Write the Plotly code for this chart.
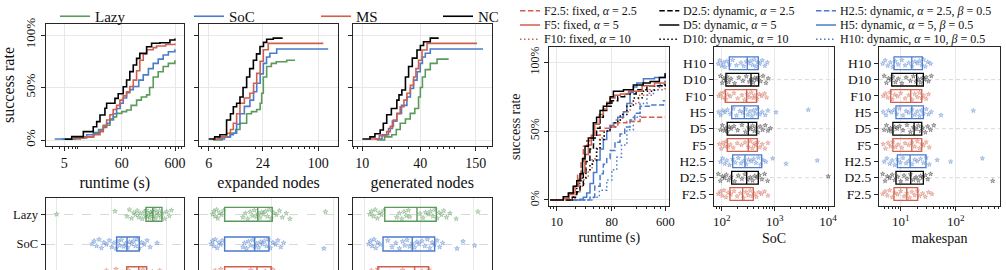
import math
import plotly.graph_objects as go

# ---------------- DATA ----------------
METHODS = ["Lazy", "SoC", "MS", "NC"]

# left CDFs: runtime (s)
RT_LAZY_X = [4.5, 10, 17.5, 22, 27, 36, 42, 48, 60, 74, 90, 114, 140, 176, 200, 234, 290, 360, 450, 597]
RT_LAZY_Y = [0.01, 0.03, 0.064, 0.1, 0.14, 0.19, 0.22, 0.254, 0.27, 0.286, 0.33, 0.38, 0.41, 0.43, 0.5, 0.6, 0.65, 0.7, 0.73, 0.76]
RT_SOC_X = [3.3, 8, 13.2, 18, 23.4, 27, 31.2, 36, 41.5, 48, 56, 64, 74, 85, 98.7, 125, 152, 190, 234, 290, 360, 450, 597]
RT_SOC_Y = [0.01, 0.02, 0.05, 0.07, 0.095, 0.12, 0.16, 0.2, 0.25, 0.3, 0.35, 0.4, 0.45, 0.48, 0.51, 0.57, 0.62, 0.68, 0.73, 0.77, 0.81, 0.84, 0.864]
RT_MS_X = [7.4, 12, 18, 23.4, 27, 31.2, 36, 41.5, 48, 55.5, 64, 74, 85, 98.7, 114, 131, 152, 176, 234, 271, 400, 597]
RT_MS_Y = [0.02, 0.03, 0.05, 0.08, 0.13, 0.19, 0.24, 0.29, 0.33, 0.38, 0.42, 0.46, 0.51, 0.57, 0.66, 0.76, 0.82, 0.86, 0.88, 0.895, 0.91, 0.92]
RT_NC_X = [5.1, 6.9, 11.4, 17.5, 20.3, 23.4, 29, 31.2, 44.7, 51.5, 64, 74, 85, 98.7, 114, 131, 176, 218, 313, 481, 597]
RT_NC_Y = [0.007, 0.032, 0.08, 0.127, 0.175, 0.238, 0.302, 0.35, 0.397, 0.44, 0.508, 0.571, 0.651, 0.714, 0.778, 0.825, 0.889, 0.921, 0.927, 0.952, 0.968]

# left CDFs: expanded nodes
EX_LAZY_X = [6.7, 8.5, 10.4, 12, 13.4, 15.9, 18, 20.6, 22.5, 23.4, 24.4, 26.6, 30, 34, 44.5, 55]
EX_LAZY_Y = [0.0, 0.03, 0.064, 0.1, 0.16, 0.25, 0.27, 0.29, 0.35, 0.445, 0.6, 0.7, 0.73, 0.746, 0.76, 0.76]
EX_SOC_X = [7.4, 9, 10.5, 11.3, 12.3, 13.4, 15, 17.3, 19, 20.6, 22.5, 24.4, 26.5, 28.9, 34.4, 129]
EX_SOC_Y = [0.01, 0.03, 0.05, 0.064, 0.15, 0.25, 0.32, 0.38, 0.46, 0.54, 0.63, 0.73, 0.79, 0.826, 0.867, 0.867]
EX_MS_X = [6.7, 8, 9.5, 10.5, 11.3, 12.3, 13.4, 15, 17.3, 19, 20.6, 22.5, 24.4, 27.7, 114]
EX_MS_Y = [0.01, 0.03, 0.064, 0.1, 0.16, 0.25, 0.35, 0.4, 0.445, 0.54, 0.635, 0.75, 0.86, 0.92, 0.92]
EX_NC_X = [6, 7, 8, 9.5, 10.5, 11.3, 12.3, 13.4, 14.5, 15.9, 17.2, 18.9, 20.5, 22.4, 24.5, 26.6, 31.5, 40.1]
EX_NC_Y = [0.01, 0.03, 0.05, 0.19, 0.25, 0.317, 0.35, 0.41, 0.5, 0.6, 0.68, 0.76, 0.82, 0.89, 0.93, 0.96, 0.97, 0.97]

# left CDFs: generated nodes
GE_LAZY_X = [14.1, 17, 20.2, 22.5, 24.7, 28, 31.4, 35, 38.3, 40, 42, 45, 50.7, 59.6, 78.7]
GE_LAZY_Y = [0.0, 0.03, 0.05, 0.1, 0.16, 0.2, 0.254, 0.3, 0.41, 0.5, 0.6, 0.67, 0.73, 0.77, 0.77]
GE_SOC_X = [13.5, 16, 18.7, 20.5, 22.8, 25.5, 29, 31.5, 34, 37, 39.9, 42, 45, 50.7, 179]
GE_SOC_Y = [0.01, 0.05, 0.11, 0.18, 0.254, 0.33, 0.41, 0.49, 0.57, 0.65, 0.73, 0.79, 0.826, 0.867, 0.867]
GE_MS_X = [12, 15, 17.9, 19.5, 21, 22.8, 24.7, 27, 29, 31.5, 34, 36, 38.3, 41.6, 46.9, 155]
GE_MS_Y = [0.01, 0.04, 0.08, 0.13, 0.19, 0.25, 0.317, 0.38, 0.445, 0.52, 0.6, 0.68, 0.76, 0.857, 0.92, 0.92]
GE_NC_X = [10, 12, 13.5, 15.3, 16.5, 17.9, 20, 22.8, 24, 25.7, 28, 30.2, 33, 36.9, 40, 43.2, 50.7, 62]
GE_NC_Y = [0.01, 0.03, 0.06, 0.095, 0.16, 0.24, 0.3, 0.38, 0.43, 0.476, 0.6, 0.7, 0.78, 0.857, 0.9, 0.936, 0.97, 0.97]

# left box row (q1, median, q3) and points, three metrics
B1_Q = {"Lazy": (42, 56, 82), "SoC": (12.3, 19, 31.7), "MS": (18.8, 31, 43.3), "NC": (15, 24, 38)}
B1_LAZY = [1.0, 11.5, 19, 21, 23, 25, 27, 29, 31, 33, 36, 39, 41, 43, 45, 47, 49, 51, 53, 55, 57, 60, 63, 66, 70, 74, 78, 84, 92, 100, 112, 122]
B1_SOC = [4.4, 4.8, 5.3, 5.9, 6.5, 7.2, 8, 9, 10, 11, 12, 13, 14, 15, 16.5, 18, 19.5, 21, 23, 25, 27, 29, 32, 35, 39, 44, 50, 67]
B1_MS = [6, 8, 10, 12, 14, 16, 18, 20, 22, 25, 28, 31, 34, 37, 40, 44, 48, 55, 62, 75]
B1_NC = [5, 7, 9, 11, 13, 15, 17, 19, 21, 24, 27, 30, 34, 38, 43, 50, 60]

B2_Q = {"Lazy": (8.2, 17.6, 24.6), "SoC": (8.2, 16.4, 22.8), "MS": (8.2, 17.3, 24), "NC": (7.5, 15, 21)}
B2_LAZY = [6.2, 6.4, 6.6, 6.8, 7.0, 7.3, 7.6, 8.0, 12.5, 13.2, 14, 14.8, 15.5, 16.3, 17, 17.8, 18.5, 19.3, 20, 21, 22, 23, 24, 25.5, 27, 29, 31, 34, 37, 84]
B2_SOC = [6.0, 6.2, 6.4, 6.6, 6.9, 7.2, 7.5, 7.8, 12.5, 13, 13.6, 14.2, 15, 15.7, 16.4, 17.2, 18, 18.8, 19.6, 20.5, 21.5, 22.5, 23.5, 25, 26.5, 28, 30, 32, 81]
B2_MS = [6.2, 6.6, 7, 7.5, 8, 12, 13.5, 15, 16.5, 18, 19.5, 21, 23, 25, 28, 32]
B2_NC = [6, 6.5, 7, 7.5, 11, 12.5, 14, 15.5, 17, 19, 21, 23, 26, 30]

B3_Q = {"Lazy": (16.7, 37.1, 59.8), "SoC": (16, 33, 57.5), "MS": (14.1, 35, 49.5), "NC": (13, 30, 45)}
B3_LAZY = [11.5, 12, 12.6, 13.2, 13.9, 14.6, 15.4, 16.2, 22.5, 24, 25.5, 27, 28.5, 30, 31, 40, 43, 46, 49, 52, 55, 58, 61, 64, 68, 72, 77, 84, 98, 168]
B3_SOC = [11.2, 11.7, 12.2, 12.8, 13.4, 14, 14.9, 18, 20, 22, 24, 26, 27.5, 29, 31, 33, 35, 37, 39, 42, 45, 48, 51, 54, 57, 61, 65, 70, 100, 116, 155]
B3_MS = [11, 12, 13, 14, 16, 19, 22, 26, 30, 34, 38, 42, 46, 50, 56, 64]
B3_NC = [10.5, 11.5, 12.5, 14, 16, 19, 22, 25, 28, 32, 36, 40, 45, 52, 60]

# right side: configurations
CONFIGS = ["F2.5", "D2.5", "H2.5", "F5", "D5", "H5", "F10", "D10", "H10"]
CONFIG_LABELS = {
    "F2.5": "F2.5: fixed, <i>α</i> = 2.5", "D2.5": "D2.5: dynamic, <i>α</i> = 2.5",
    "H2.5": "H2.5: dynamic, <i>α</i> = 2.5, <i>β</i> = 0.5",
    "F5": "F5: fixed, <i>α</i> = 5", "D5": "D5: dynamic, <i>α</i> = 5",
    "H5": "H5: dynamic, <i>α</i> = 5, <i>β</i> = 0.5",
    "F10": "F10: fixed, <i>α</i> = 10", "D10": "D10: dynamic, <i>α</i> = 10",
    "H10": "H10: dynamic, <i>α</i> = 10, <i>β</i> = 0.5",
}

# right CDF (runtime s)
R_F25_X = [14, 16, 18.7, 22, 25, 27.3, 31, 35, 39.8, 51.3, 62, 74.9, 100, 141, 232, 596]
R_F25_Y = [0, 0.04, 0.1, 0.18, 0.27, 0.39, 0.43, 0.45, 0.47, 0.5, 0.52, 0.53, 0.56, 0.57, 0.6, 0.6]
R_D25_X = [14, 18, 21.3, 24.1, 27.3, 30, 35, 40, 45, 51.3, 58, 66, 80, 100, 130, 200, 300, 596]
R_D25_Y = [0, 0.02, 0.06, 0.1, 0.2, 0.28, 0.37, 0.45, 0.52, 0.6, 0.65, 0.68, 0.72, 0.75, 0.77, 0.8, 0.83, 0.84]
R_H25_X = [18, 35.1, 42, 51.3, 58, 66, 74.9, 90, 109, 130, 159, 190, 232, 339, 560, 596]
R_H25_Y = [0, 0.02, 0.1, 0.19, 0.26, 0.3, 0.36, 0.42, 0.48, 0.53, 0.58, 0.63, 0.68, 0.69, 0.72, 0.72]
R_F5_X = [7.8, 13, 16, 20, 23, 25, 29, 33, 37, 42, 50, 58, 66, 75, 90, 110, 150, 250, 400, 596]
R_F5_Y = [0, 0.01, 0.05, 0.1, 0.15, 0.2, 0.33, 0.4, 0.47, 0.55, 0.62, 0.66, 0.71, 0.74, 0.76, 0.77, 0.79, 0.83, 0.85, 0.86]
R_D5_X = [7.8, 12.8, 15.5, 18.7, 21.3, 24.1, 26.5, 29.1, 33, 39.8, 45, 51.3, 58, 66, 75, 84.8, 124, 180, 260, 339, 480, 596]
R_D5_Y = [0, 0.024, 0.05, 0.1, 0.14, 0.19, 0.3, 0.39, 0.45, 0.56, 0.6, 0.65, 0.68, 0.7, 0.75, 0.79, 0.8, 0.835, 0.85, 0.86, 0.89, 0.92]
R_H5_X = [15, 24, 27.3, 31, 35.1, 40, 45.3, 51.3, 58.1, 66, 74.9, 84.8, 100, 124, 141, 159, 180, 205, 263, 400, 596]
R_H5_Y = [0, 0.005, 0.02, 0.05, 0.12, 0.2, 0.29, 0.37, 0.44, 0.5, 0.54, 0.56, 0.6, 0.64, 0.7, 0.78, 0.82, 0.85, 0.88, 0.89, 0.92]
R_F10_X = [15, 20, 24, 28, 33, 38, 45, 51.3, 60, 74.9, 90, 120, 160, 220, 330, 596]
R_F10_Y = [0, 0.05, 0.1, 0.16, 0.22, 0.3, 0.38, 0.45, 0.5, 0.54, 0.58, 0.64, 0.7, 0.76, 0.8, 0.82]
R_D10_X = [15, 18.7, 21.3, 25, 30, 35, 39.8, 45, 51.3, 60, 74.9, 90, 110, 141, 180, 250, 400, 596]
R_D10_Y = [0, 0.05, 0.12, 0.16, 0.22, 0.26, 0.29, 0.37, 0.44, 0.5, 0.53, 0.57, 0.62, 0.68, 0.74, 0.79, 0.83, 0.84]
R_H10_X = [20, 39.8, 50, 66, 80, 96.3, 115, 141, 180, 232, 300, 384, 480, 596]
R_H10_Y = [0, 0.02, 0.07, 0.145, 0.22, 0.31, 0.4, 0.51, 0.6, 0.7, 0.76, 0.8, 0.84, 0.88]

# right box plots: (q1, median, q3)
SOC_Q = {"H10": (139, 303, 488), "D10": (120, 356, 495), "F10": (117, 295, 455),
         "H5": (154, 266, 488), "D5": (127, 316, 455), "F5": (127, 316, 467),
         "H2.5": (161, 274, 565), "D2.5": (154, 295, 488), "F2.5": (143, 248, 393)}
MK_Q = {"H10": (7.55, 15.9, 24.7), "D10": (6.86, 19.5, 25.8), "F10": (6.58, 15.2, 24.1),
        "H5": (8.2, 15.9, 25.8), "D5": (7.2, 17.5, 24.1), "F5": (7.2, 15.9, 24.1),
        "H2.5": (8.7, 14.8, 28.8), "D2.5": (8.2, 15.2, 25.8), "F2.5": (7.55, 12.9, 20.4)}

SOC_H10 = [86, 92, 100, 108, 115, 125, 140, 160, 190, 230, 260, 290, 320, 350, 380, 410, 440, 480, 520, 580, 650, 720]
SOC_D10 = [95, 102, 110, 118, 126, 135, 150, 175, 210, 250, 290, 330, 360, 390, 420, 450, 490, 540, 600, 680, 750]
SOC_F10 = [88, 96, 104, 112, 120, 130, 145, 170, 200, 240, 270, 300, 330, 360, 390, 420, 460, 510, 570, 640, 700]
SOC_H5 = [88, 96, 105, 115, 128, 145, 165, 190, 220, 250, 280, 310, 340, 370, 400, 430, 470, 520, 580, 660, 740, 1050, 4250]
SOC_D5 = [95, 103, 112, 120, 128, 138, 150, 170, 200, 240, 280, 320, 350, 380, 410, 440, 480, 530, 590, 660, 740, 820]
SOC_F5 = [90, 98, 106, 114, 122, 132, 145, 165, 195, 235, 275, 315, 345, 375, 405, 435, 470, 520, 580, 650, 740]
SOC_H25 = [95, 104, 114, 125, 140, 160, 180, 205, 230, 260, 290, 320, 360, 400, 440, 490, 540, 600, 680, 910, 1620, 6270]
SOC_D25 = [86, 94, 103, 112, 122, 134, 150, 175, 205, 240, 275, 310, 345, 380, 420, 460, 510, 570, 640, 730, 10100]
SOC_F25 = [86, 94, 102, 110, 120, 132, 148, 170, 195, 225, 255, 285, 315, 345, 375, 410, 450, 500, 560, 640, 740]

MK_H10 = [4.7, 5.2, 5.8, 6.5, 7.2, 8, 9, 10.5, 12, 14, 16, 18, 20, 22, 24, 26, 28, 31, 35]
MK_D10 = [5, 5.5, 6, 6.6, 7.2, 8, 9, 10.5, 12.5, 15, 17, 19, 21, 23, 25, 27, 29, 32, 36]
MK_F10 = [4.8, 5.3, 5.8, 6.4, 7, 7.8, 8.8, 10, 12, 14, 16, 18, 20, 22, 24, 26, 29, 32]
MK_H5 = [4.8, 5.4, 6, 6.8, 7.6, 8.5, 9.5, 11, 12.5, 14, 16, 18, 20, 22, 24, 26, 29, 32, 36, 54, 209]
MK_D5 = [5, 5.5, 6, 6.5, 7, 7.8, 8.6, 9.5, 11, 13, 15, 17, 19, 21, 23, 25, 28, 31, 35, 40]
MK_F5 = [4.8, 5.3, 5.9, 6.5, 7.2, 8, 9, 10.5, 12, 14, 16, 18, 20, 22, 24, 26, 29, 33]
MK_H25 = [5, 5.6, 6.3, 7, 7.8, 8.7, 9.8, 11, 12.5, 14, 16, 18, 20, 23, 26, 29, 33, 46, 81, 305]
MK_D25 = [4.7, 5.2, 5.7, 6.3, 7, 7.8, 8.8, 10, 11.5, 13, 15, 17, 19, 21, 23, 25, 28, 31, 35, 471]
MK_F25 = [4.7, 5.2, 5.7, 6.3, 7, 7.8, 8.8, 10, 11.5, 13, 14.5, 16, 18, 20, 22, 25, 28, 32, 37]

# ---------------- STYLE ----------------
W, H = 1006, 270
FONT = "Liberation Serif, Times New Roman, serif"
COL = {"Lazy": "#5a9a5a", "SoC": "#4a7bcc", "MS": "#d0604c", "NC": "#000000"}
PT_FILL = {"Lazy": "rgba(90,154,90,0.25)", "SoC": "rgba(74,123,204,0.25)",
           "MS": "rgba(208,96,76,0.25)", "NC": "rgba(60,60,60,0.25)"}
PT_EDGE = {"Lazy": "rgba(90,154,90,0.75)", "SoC": "rgba(74,123,204,0.75)",
           "MS": "rgba(208,96,76,0.75)", "NC": "rgba(30,30,30,0.75)"}
FAM_COL = {"F": "#d0604c", "D": "#000000", "H": "#4a7bcc"}
FAM_FILL = {"F": "rgba(208,96,76,0.25)", "D": "rgba(60,60,60,0.25)", "H": "rgba(74,123,204,0.25)"}
FAM_EDGE = {"F": "rgba(208,96,76,0.7)", "D": "rgba(30,30,30,0.7)", "H": "rgba(74,123,204,0.7)"}
DASH = {"2.5": "5.5px,2.4px", "5": "solid", "10": "1.5px,2.5px"}
JIT = [0.0, 0.6, -0.4, 0.9, -0.8, 0.3, -0.1, 0.7, -0.6, 0.2, -0.9, 0.5, -0.3, 0.8, -0.5, 0.1, -0.7, 0.4]
MINOR = [m * 10 ** k for k in range(-1, 5) for m in range(2, 10)]
GRID = "#e8e8e8"
LINE = "#262626"
LEGEND_X = {"Lazy": 55, "SoC": 189, "MS": 316, "NC": 438}
LEGEND_ID = {"Lazy": "legend", "SoC": "legend2", "MS": "legend3", "NC": "legend4"}


def dom_x(a, b):
    return [a / W, b / W]


def dom_y(top, bottom):
    return [1 - bottom / H, 1 - top / H]


def base_axis(**kw):
    d = dict(showline=True, linecolor=LINE, linewidth=1.3, mirror=True, ticks="outside",
             ticklen=4, tickwidth=1, tickcolor=LINE, showgrid=True, gridcolor=GRID,
             gridwidth=1, zeroline=False, automargin=False,
             tickfont=dict(family=FONT, size=14, color="#111"))
    d.update(kw)
    return d


fig = go.Figure()

# ---- left CDFs
left_cdf = [
    {"Lazy": (RT_LAZY_X, RT_LAZY_Y), "SoC": (RT_SOC_X, RT_SOC_Y), "MS": (RT_MS_X, RT_MS_Y), "NC": (RT_NC_X, RT_NC_Y)},
    {"Lazy": (EX_LAZY_X, EX_LAZY_Y), "SoC": (EX_SOC_X, EX_SOC_Y), "MS": (EX_MS_X, EX_MS_Y), "NC": (EX_NC_X, EX_NC_Y)},
    {"Lazy": (GE_LAZY_X, GE_LAZY_Y), "SoC": (GE_SOC_X, GE_SOC_Y), "MS": (GE_MS_X, GE_MS_Y), "NC": (GE_NC_X, GE_NC_Y)},
]
for i, panel in enumerate(left_cdf):
    n = str(i + 1)
    for m in METHODS:
        xs, ys = panel[m]
        fig.add_trace(go.Scatter(x=xs, y=ys, mode="lines", name=m, legendgroup=m, legend=LEGEND_ID[m],
                                 showlegend=(i == 0), line=dict(color=COL[m], width=1.6, shape="hv"),
                                 xaxis="x" + n, yaxis="y" + n, hoverinfo="skip"))

# ---- left box row
left_box = [
    (B1_Q, {"Lazy": B1_LAZY, "SoC": B1_SOC, "MS": B1_MS, "NC": B1_NC}),
    (B2_Q, {"Lazy": B2_LAZY, "SoC": B2_SOC, "MS": B2_MS, "NC": B2_NC}),
    (B3_Q, {"Lazy": B3_LAZY, "SoC": B3_SOC, "MS": B3_MS, "NC": B3_NC}),
]
LPOS = {"Lazy": 3, "SoC": 2, "MS": 1, "NC": 0}
for i, (qs, pts) in enumerate(left_box):
    n = str(i + 4)
    for m in METHODS:
        q1, md, q3 = qs[m]
        p = LPOS[m]
        fig.add_trace(go.Box(y=[p], q1=[q1], median=[md], q3=[q3], lowerfence=[q1], upperfence=[q3],
                             orientation="h", width=0.47, boxpoints=False, fillcolor="rgba(0,0,0,0)",
                             line=dict(color=COL[m], width=1.4), showlegend=False, hoverinfo="skip",
                             xaxis="x" + n, yaxis="y" + n))
        v = pts[m]
        fig.add_trace(go.Scatter(x=v, y=[p + 0.17 * JIT[k % len(JIT)] for k in range(len(v))],
                                 mode="markers", showlegend=False, hoverinfo="skip",
                                 marker=dict(symbol="star", size=3.6, color=PT_FILL[m],
                                             line=dict(color=PT_EDGE[m], width=0.5)),
                                 xaxis="x" + n, yaxis="y" + n))

# ---- right CDF
right_cdf = {"F2.5": (R_F25_X, R_F25_Y), "D2.5": (R_D25_X, R_D25_Y), "H2.5": (R_H25_X, R_H25_Y),
             "F5": (R_F5_X, R_F5_Y), "D5": (R_D5_X, R_D5_Y), "H5": (R_H5_X, R_H5_Y),
             "F10": (R_F10_X, R_F10_Y), "D10": (R_D10_X, R_D10_Y), "H10": (R_H10_X, R_H10_Y)}
for c in ["H10", "H2.5", "H5", "F10", "D10", "F2.5", "D2.5", "F5", "D5"]:
    xs, ys = right_cdf[c]
    fam, a = c[0], c[1:]
    fig.add_trace(go.Scatter(x=xs, y=ys, mode="lines", name=c, showlegend=False, hoverinfo="skip",
                             line=dict(color=FAM_COL[fam], width=1.5, dash=DASH[a], shape="hv"),
                             xaxis="x7", yaxis="y7"))

# ---- right box plots
soc_pts = {"H10": SOC_H10, "D10": SOC_D10, "F10": SOC_F10, "H5": SOC_H5, "D5": SOC_D5, "F5": SOC_F5,
           "H2.5": SOC_H25, "D2.5": SOC_D25, "F2.5": SOC_F25}
mk_pts = {"H10": MK_H10, "D10": MK_D10, "F10": MK_F10, "H5": MK_H5, "D5": MK_D5, "F5": MK_F5,
          "H2.5": MK_H25, "D2.5": MK_D25, "F2.5": MK_F25}
for n, qs, pts in [("8", SOC_Q, soc_pts), ("9", MK_Q, mk_pts)]:
    for p, c in enumerate(CONFIGS):
        fam = c[0]
        q1, md, q3 = qs[c]
        fig.add_trace(go.Box(y=[p], q1=[q1], median=[md], q3=[q3], lowerfence=[q1], upperfence=[q3],
                             orientation="h", width=0.78, boxpoints=False, fillcolor="rgba(0,0,0,0)",
                             line=dict(color=FAM_COL[fam], width=1.3), showlegend=False, hoverinfo="skip",
                             xaxis="x" + n, yaxis="y" + n))
        v = pts[c]
        fig.add_trace(go.Scatter(x=v, y=[p + 0.25 * JIT[(k + 3 * p) % len(JIT)] for k in range(len(v))],
                                 mode="markers", showlegend=False, hoverinfo="skip",
                                 marker=dict(symbol="star", size=3.4, color=FAM_FILL[fam],
                                             line=dict(color=FAM_EDGE[fam], width=0.5)),
                                 xaxis="x" + n, yaxis="y" + n))

# ---------------- AXES ----------------
L = math.log10
pct_y = dict(tickmode="array", tickvals=[0, 0.5, 1], ticktext=["0%", "50%", "100%"], tickangle=-90)
minor_ax = dict(tickmode="array", tickvals=MINOR, ticks="outside", ticklen=2, tickcolor=LINE, showgrid=False)
title_font = dict(family=FONT, size=16, color="#111")

lay = {}
cdf_x = [((45.7, 184), (L(2.24), L(885)), [5, 60, 600], "runtime (s)"),
         ((199, 338), (L(4.68), L(166)), [6, 24, 100], "expanded nodes"),
         ((352.7, 491.7), (L(7.94), L(220)), [10, 40, 150], "generated nodes")]
for i, (dx, rng, tv, ttl) in enumerate(cdf_x):
    n = "" if i == 0 else str(i + 1)
    lay["xaxis" + n] = base_axis(domain=dom_x(*dx), type="log", range=list(rng), anchor="y" + n,
                                 tickmode="array", tickvals=tv, ticktext=[str(t) for t in tv],
                                 minor=minor_ax,
                                 title=dict(text=ttl, font=title_font, standoff=6))
    ya = base_axis(domain=dom_y(24, 146), range=[-0.057, 1.105], anchor="x" + n,
                   showticklabels=(i == 0), **pct_y)
    ya["tickfont"] = dict(family=FONT, size=13, color="#111")
    if i == 0:
        ya["title"] = dict(text="success rate", font=title_font, standoff=4)
    lay["yaxis" + n] = ya

box_x = [((45.7, 184), (-0.2, 2.315), [1, 10, 100]),
         ((199, 338), (0.657, 2.05), [6, 24, 100]),
         ((352.7, 491.7), (0.878, 2.373), [10, 40, 150])]
for i, (dx, rng, tv) in enumerate(box_x):
    n = str(i + 4)
    lay["xaxis" + n] = base_axis(domain=dom_x(*dx), type="log", range=list(rng), anchor="y" + n,
                                 side="top", mirror=False, ticks="", showticklabels=False,
                                 tickmode="array", tickvals=tv)
    lay["yaxis" + n] = base_axis(domain=[0, 1 - 198 / H], range=[1.125, 3.549], anchor="x" + n,
                                 tickmode="array", tickvals=[3, 2, 1, 0], ticktext=METHODS,
                                 showticklabels=(i == 0), griddash="dash", gridcolor="#d9d9d9",
                                 tickfont=dict(family=FONT, size=12.5, color="#111"))

lay["xaxis7"] = base_axis(domain=dom_x(549.3, 669.3), type="log", range=[L(7.57), L(698)], anchor="y7",
                          tickmode="array", tickvals=[10, 80, 600], ticktext=["10", "80", "600"],
                          minor=minor_ax, tickfont=dict(family=FONT, size=12.5, color="#111"),
                          title=dict(text="runtime (s)", font=dict(family=FONT, size=14, color="#111"), standoff=4))
lay["yaxis7"] = base_axis(domain=dom_y(47.3, 206), range=[-0.044, 1.109], anchor="x7", **pct_y,
                          tickfont=dict(family=FONT, size=12, color="#111"),
                          title=dict(text="success rate", font=dict(family=FONT, size=14, color="#111"), standoff=4))

for n, dx, rng, tv, tt, ttl in [
    ("8", (714, 834.3), [1.855, 4.118], [100, 1000, 10000], ["10<sup>2</sup>", "10<sup>3</sup>", "10<sup>4</sup>"], "SoC"),
    ("9", (879, 1000), [0.605, 2.805], [10, 100], ["10<sup>1</sup>", "10<sup>2</sup>"], "makespan"),
]:
    lay["xaxis" + n] = base_axis(domain=dom_x(*dx), type="log", range=rng, anchor="y" + n,
                                 tickmode="array", tickvals=tv, ticktext=tt, minor=minor_ax,
                                 tickfont=dict(family=FONT, size=13, color="#111"),
                                 title=dict(text=ttl, font=dict(family=FONT, size=14, color="#111"), standoff=4))
    lay["yaxis" + n] = base_axis(domain=dom_y(47.3, 205.7), range=[-0.716, 8.98], anchor="x" + n,
                                 tickmode="array", tickvals=list(range(9)), ticktext=CONFIGS,
                                 showgrid=False, tickfont=dict(family=FONT, size=13.5, color="#111"))

# one legend box per method, placed along the top row
for m in METHODS:
    lay[LEGEND_ID[m]] = dict(orientation="h", x=LEGEND_X[m] / W, y=1.0, xanchor="left", yanchor="top",
                             font=dict(family=FONT, size=15, color="#111"), bgcolor="rgba(0,0,0,0)",
                             borderwidth=0)

fig.update_layout(**lay)

shapes = []
for n in ["8", "9"]:
    for p in [1, 4, 7]:
        shapes.append(dict(type="line", xref="x" + n + " domain", yref="y" + n, x0=0, x1=1, y0=p, y1=p,
                           line=dict(color="#d9d9d9", width=1, dash="4px,3px"), layer="below"))

annots = []
col_x = {"F": 520, "D": 659.3, "H": 816}
row_y = {"2.5": 10.7, "5": 25, "10": 39.3}
for c in CONFIGS:
    fam, a = c[0], c[1:]
    x0 = col_x[fam]
    yy = 1 - row_y[a] / H
    shapes.append(dict(type="line", xref="paper", yref="paper", x0=x0 / W, x1=(x0 + 20) / W, y0=yy, y1=yy,
                       line=dict(color=FAM_COL[fam], width=1.5, dash=DASH[a])))
    annots.append(dict(xref="paper", yref="paper", x=(x0 + 22) / W, y=yy, xanchor="left", yanchor="middle",
                       text=CONFIG_LABELS[c], showarrow=False, font=dict(family=FONT, size=12, color="#111")))

fig.update_layout(
    width=W, height=H, margin=dict(l=0, r=0, t=0, b=0), autosize=False,
    paper_bgcolor="white", plot_bgcolor="white",
    font=dict(family=FONT, color="#111"),
    boxmode="overlay",
    shapes=shapes, annotations=annots,
)

fig.write_html("out.html")
